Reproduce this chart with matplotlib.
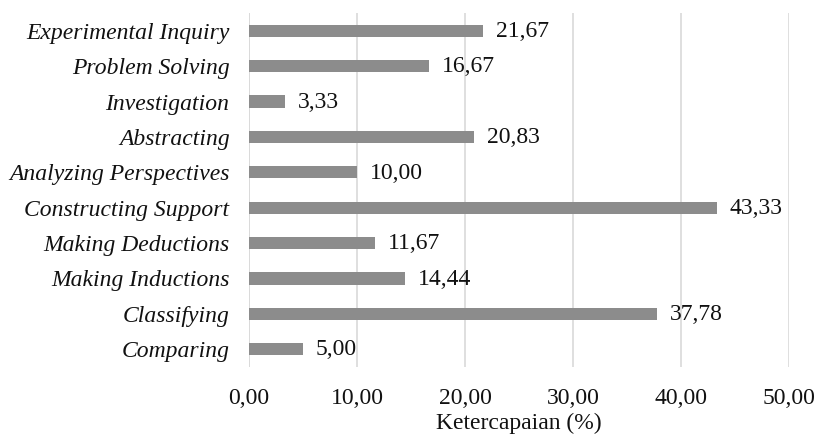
import matplotlib
matplotlib.use("Agg")
import matplotlib.pyplot as plt

categories = [
    "Experimental Inquiry",
    "Problem Solving",
    "Investigation",
    "Abstracting",
    "Analyzing Perspectives",
    "Constructing Support",
    "Making Deductions",
    "Making Inductions",
    "Classifying",
    "Comparing",
]
values = [21.67, 16.67, 3.33, 20.83, 10.00, 43.33, 11.67, 14.44, 37.78, 5.00]
xticks = [0, 10, 20, 30, 40, 50]

plt.rcParams["font.family"] = ["Liberation Serif", "DejaVu Serif"]

def fmt(v):
    return f"{v:.2f}".replace(".", ",")

fig = plt.figure(figsize=(8.17, 4.34), dpi=100)
ax = fig.add_axes([0.3048, 0.1544, 0.6609, 0.8156])

ypos = list(range(len(categories)))
ax.barh(ypos, values, height=0.34, color="#8c8c8c", zorder=3)
for y, v in zip(ypos, values):
    ax.text(v + 1.2, y + 0.02, fmt(v), va="center", ha="left", fontsize=17, color="#111111")

ax.set_ylim(len(categories) - 0.5, -0.5)
ax.set_xlim(0, 50)
ax.set_yticks(ypos)
ax.set_yticklabels(categories, fontsize=17, style="italic", color="#111111")
ax.set_xticks(xticks)
ax.set_xticklabels([fmt(t) for t in xticks], fontsize=17, color="#111111")
ax.tick_params(axis="both", length=0)
ax.tick_params(axis="y", pad=14)
ax.tick_params(axis="x", pad=15)
ax.xaxis.grid(True, color="#d9d9d9", linewidth=1.2, zorder=0)
for s in ax.spines.values():
    s.set_visible(False)
ax.axvline(0, color="#d9d9d9", linewidth=1.2, zorder=1)
ax.set_xlabel("Ketercapaian (%)", fontsize=17, color="#111111", labelpad=3)

fig.savefig("out.png", dpi=100)
